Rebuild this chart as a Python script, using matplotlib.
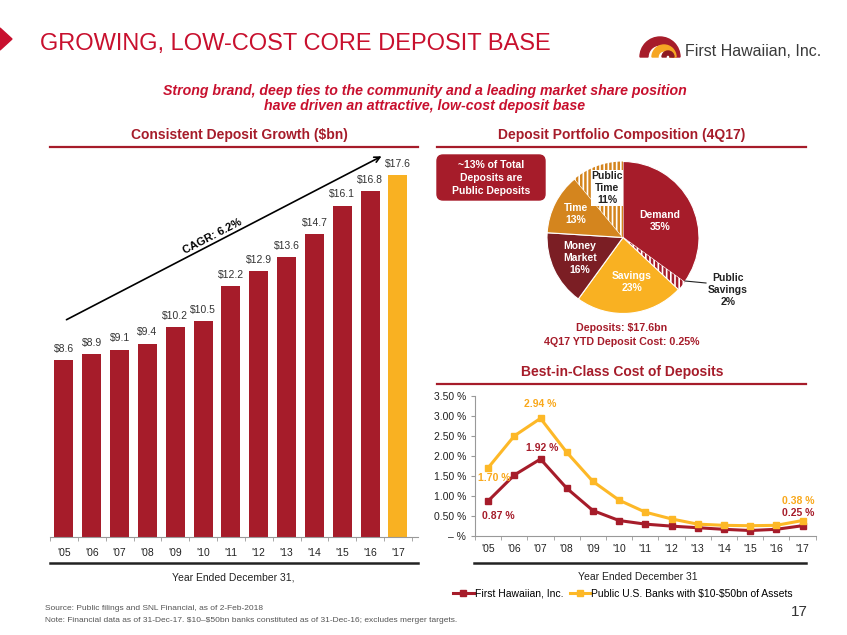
import matplotlib
matplotlib.use("Agg")
import matplotlib.pyplot as plt
from matplotlib.patches import FancyBboxPatch, Wedge, Polygon

plt.rcParams['font.family'] = ['Liberation Sans', 'DejaVu Sans']
plt.rcParams['hatch.linewidth'] = 1.8

# ---- data ----
years = ["'05", "'06", "'07", "'08", "'09", "'10", "'11", "'12", "'13", "'14", "'15", "'16", "'17"]
deposits = [8.6, 8.9, 9.1, 9.4, 10.2, 10.5, 12.2, 12.9, 13.6, 14.7, 16.1, 16.8, 17.6]

pie_labels = ["Demand\n35%", "", "Savings\n23%", "Money\nMarket\n16%", "Time\n13%", "Public\nTime\n11%"]
pie_shares = [35, 2, 23, 16, 13, 11]

fhi_cost = [0.87, 1.52, 1.92, 1.19, 0.63, 0.38, 0.29, 0.24, 0.20, 0.16, 0.13, 0.16, 0.25]
peer_cost = [1.70, 2.50, 2.94, 2.09, 1.36, 0.89, 0.59, 0.42, 0.29, 0.26, 0.25, 0.26, 0.38]

RED = '#C8102E'
DRED = '#A61C2A'
GOLD = '#F9B122'
MAROON = '#7B1E24'
ORANGE = '#D4851E'

W, H = 847, 635
fig = plt.figure(figsize=(W / 100, H / 100), dpi=100)


def px(x0, y0, x1, y1):
    return [x0 / W, 1 - y1 / H, (x1 - x0) / W, (y1 - y0) / H]


# ---- bar chart ----
ax1 = fig.add_axes(px(50, 150, 418, 537))
colors = [DRED] * (len(deposits) - 1) + [GOLD]
ax1.bar(range(len(deposits)), deposits, width=0.68, color=colors)
for i, v in enumerate(deposits):
    ax1.text(i, v + 0.3, f"\\${v}", ha='center', va='bottom', fontsize=7.5, color='#333333')
ax1.set_xlim(-0.466, 12.72)
ax1.set_ylim(0, 18.8)
ax1.set_xticks(range(len(years)), years)
ax1.set_xticks([i + 0.5 for i in range(-1, 13)], minor=True)
ax1.tick_params(axis='x', which='major', length=0, pad=8, labelsize=7.5, labelcolor='#222222')
ax1.tick_params(axis='x', which='minor', length=3, color='#999999')
ax1.set_yticks([])
for s in ['top', 'right', 'left']:
    ax1.spines[s].set_visible(False)
ax1.spines['bottom'].set_color('#999999')
ax1.spines['bottom'].set_linewidth(0.8)

# ---- pie chart ----
ax2 = fig.add_axes(px(523, 137.5, 723, 337.5))
pie_colors = [DRED, 'white', GOLD, MAROON, ORANGE, 'white']
wedges, _ = ax2.pie(pie_shares, colors=pie_colors, startangle=90, counterclock=False,
                    wedgeprops=dict(edgecolor='white', linewidth=0.8))
wedges[1].set_hatch('||||')
wedges[1].set_edgecolor(DRED)
wedges[1].set_linewidth(0)
wedges[5].set_hatch('||||')
wedges[5].set_edgecolor(ORANGE)
wedges[5].set_linewidth(0)
ax2.set_xlim(-1.316, 1.316)
ax2.set_ylim(-1.316, 1.316)
ax2.axis('off')

# ---- line chart ----
ax3 = fig.add_axes(px(475, 396, 815.6, 535.7))
x = range(len(years))
ax3.plot(x, fhi_cost, color=DRED, lw=2.2, marker='s', ms=4.5, label='First Hawaiian, Inc.')
ax3.plot(x, peer_cost, color='#FDB827', lw=2.2, marker='s', ms=4.5,
         label='Public U.S. Banks with \\$10-\\$50bn of Assets')
ax3.set_xlim(-0.5, 12.5)
ax3.set_ylim(0, 3.5)
yt = [0, 0.5, 1.0, 1.5, 2.0, 2.5, 3.0, 3.5]
ax3.set_yticks(yt, ['– %' if v == 0 else f"{v:.2f} %" for v in yt])
ax3.set_xticks(range(len(years)), years)
ax3.set_xticks([i + 0.5 for i in range(-1, 13)], minor=True)
ax3.tick_params(axis='x', which='major', length=0, pad=6, labelsize=7.5, labelcolor='#222222')
ax3.tick_params(axis='x', which='minor', length=3, color='#999999')
ax3.tick_params(axis='y', length=3, color='#999999', labelsize=7.5, labelcolor='#222222')
for s in ['top', 'right']:
    ax3.spines[s].set_visible(False)
for s in ['left', 'bottom']:
    ax3.spines[s].set_color('#999999')
    ax3.spines[s].set_linewidth(0.8)

ann = [(2, peer_cost[2], '#F9A81B', 0, 14, 'center'),
       (2, fhi_cost[2], DRED, 2, 11, 'center'),
       (0, peer_cost[0], '#F9A81B', 6, -10, 'center'),
       (0, fhi_cost[0], DRED, 10, -15, 'center'),
       (12, peer_cost[12], '#F9A81B', 12, 20, 'right'),
       (12, fhi_cost[12], DRED, 12, 13, 'right')]
for i, v, c, dx, dy, ha in ann:
    ax3.annotate(f"{v:.2f} %", (i, v), xytext=(dx, dy), textcoords='offset pixels',
                 ha=ha, va='center', fontsize=7.5, fontweight='bold', color=c)

ax3.legend(loc='center', bbox_to_anchor=(623 / W, 1 - 594 / H), bbox_transform=fig.transFigure,
           ncol=2, frameon=False, fontsize=7.5, handlelength=2.0, handletextpad=0.1,
           columnspacing=0.6, borderpad=0)

# ---- overlay in pixel coordinates ----
ov = fig.add_axes([0, 0, 1, 1], zorder=10)
ov.set_xlim(0, W)
ov.set_ylim(H, 0)
ov.axis('off')

# header
ov.add_patch(Polygon([(0, 28), (12, 39), (0, 50)], closed=True, color=RED))
ov.text(40, 50, "GROWING, LOW-COST CORE DEPOSIT BASE", fontsize=17, color=RED, va='baseline')
ov.add_patch(Wedge((660, 57), 20, 180, 360, width=8, color=DRED))
ov.add_patch(Wedge((664, 57), 12, 180, 360, width=6, color='#F6A623'))
ov.add_patch(Wedge((668, 57), 6, 180, 360, width=4, color='#8E1B22'))
ov.text(685, 51, "First Hawaiian, Inc.", fontsize=11.5, color='#3a3a3a', va='center')

ov.text(425, 91, "Strong brand, deep ties to the community and a leading market share position",
        fontsize=10.2, fontweight='bold', style='italic', color=RED, ha='center', va='center')
ov.text(425, 106, "have driven an attractive, low-cost deposit base",
        fontsize=10.2, fontweight='bold', style='italic', color=RED, ha='center', va='center')

# section headers
for cx, y, x0, x1, t in [(239, 135, 50, 418, "Consistent Deposit Growth (\\$bn)"),
                         (622, 135, 437, 806, "Deposit Portfolio Composition (4Q17)"),
                         (622, 372, 437, 806, "Best-in-Class Cost of Deposits")]:
    ov.text(cx, y, t, fontsize=10, fontweight='bold', color=DRED, ha='center', va='center')
    ov.plot([x0, x1], [y + 12, y + 12], color=DRED, lw=1.6)

# CAGR arrow
ov.annotate("", xy=(384, 155), xytext=(64, 321),
            arrowprops=dict(arrowstyle='->', color='black', lw=1.2))
ov.text(212, 236, "CAGR: 6.2%", fontsize=8, fontweight='bold', rotation=27.4,
        rotation_mode='anchor', ha='center', va='center')

# axis underlines
ov.plot([50, 418], [563, 563], color='#222222', lw=1.8)
ov.text(233, 577, "Year Ended December 31,", fontsize=7.5, ha='center', va='center', color='#222222')
ov.plot([474, 806], [563, 563], color='#222222', lw=1.8)
ov.text(638, 577, "Year Ended December 31", fontsize=7.5, ha='center', va='center', color='#222222')

# pie annotations
ov.add_patch(FancyBboxPatch((437, 155), 108, 45, boxstyle='round,pad=0,rounding_size=6',
                            color=DRED))
for yy, t in [(165, "~13% of Total"), (178, "Deposits are"), (191, "Public Deposits")]:
    ov.text(491, yy, t, fontsize=7.5, fontweight='bold', color='white', ha='center', va='center')

pie_pos = [(660, 221), None, (632, 282), (580, 258), (576, 214), (607, 188)]
for lab, pos in zip(pie_labels, pie_pos):
    if pos is None:
        continue
    if lab.startswith("Public"):
        ov.text(pos[0], pos[1], lab, fontsize=7.5, fontweight='bold', color='#222222',
                ha='center', va='center', linespacing=1.25,
                bbox=dict(facecolor='white', edgecolor='none', pad=0.5))
    else:
        ov.text(pos[0], pos[1], lab, fontsize=7.5, fontweight='bold', color='white',
                ha='center', va='center', linespacing=1.25)
ov.plot([685, 706], [281, 283], color='#222222', lw=0.8)
ov.text(728, 290, "Public\nSavings\n2%", fontsize=7.5, fontweight='bold', color='#222222',
        ha='center', va='center', linespacing=1.3)
ov.text(622, 328, "Deposits: \\$17.6bn", fontsize=7.7, fontweight='bold', color=DRED,
        ha='center', va='center')
ov.text(622, 342, "4Q17 YTD Deposit Cost: 0.25%", fontsize=7.7, fontweight='bold', color=DRED,
        ha='center', va='center')

# footer
ov.text(45, 609, "Source: Public filings and SNL Financial, as of 2-Feb-2018",
        fontsize=6, color='#555555', va='center')
ov.text(45, 620, "Note: Financial data as of 31-Dec-17. \\$10–\\$50bn banks constituted as of "
        "31-Dec-16; excludes merger targets.", fontsize=6, color='#555555', va='center')
ov.text(808, 612, "17", fontsize=11, color='#333333', ha='right', va='center')

fig.savefig("out.png", dpi=100)
